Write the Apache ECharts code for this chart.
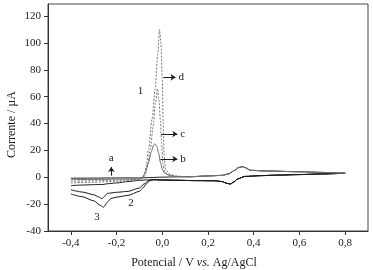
<!DOCTYPE html>
<html>
<head>
<meta charset="utf-8">
<script src="https://cdn.jsdelivr.net/npm/echarts@6/dist/echarts.min.js"></script>
<style>
  html, body { margin: 0; padding: 0; background: #fff; }
  #chart { width: 373px; height: 270px; }
</style>
</head>
<body>
<div id="chart"></div>
<script>
// axis ticks
const xTicks = [-0.4, -0.2, 0, 0.2, 0.4, 0.6, 0.8]
const yTicks = [-40, -20, 0, 20, 40, 60, 80, 100, 120]

// anodic scans (-0.4 -> 0.8 V), common part after the stripping peaks
const anodicTail = [[0.12, 0.4], [0.2, 1.0], [0.26, 1.4], [0.29, 2.5], [0.315, 5], [0.335, 7.3], [0.35, 7.9], [0.365, 7], [0.385, 5.2], [0.45, 4.7], [0.6, 4.1], [0.7, 3.6], [0.8, 3.0]]
const anodicA = [[-0.4, -0.7], [-0.3, -0.6], [-0.2, -0.5], [-0.1, -0.5], [-0.05, -0.2], [0, 0.1], [0.06, 0.3]]
const anodicB = [[-0.4, -1.8], [-0.3, -1.6], [-0.2, -1.4], [-0.12, -1.3], [-0.1, -1.1], [-0.085, 0.3], [-0.074, 3.7], [-0.06, 11], [-0.048, 19], [-0.038, 24], [-0.032, 25], [-0.024, 23], [-0.016, 18], [-0.008, 11], [0, 6], [0.01, 3], [0.03, 1.5], [0.06, 0.6]]
const anodicC = [[-0.4, -3], [-0.3, -2.6], [-0.2, -2.2], [-0.1, -1.6], [-0.085, -0.5], [-0.075, 1.5], [-0.065, 8], [-0.052, 21], [-0.04, 38], [-0.03, 55], [-0.021, 66], [-0.015, 58], [-0.008, 42], [-0.003, 25], [0.003, 10], [0.01, 4], [0.025, 2], [0.045, 1], [0.07, 0.5]]
const anodicD = [[-0.4, -4.2], [-0.3, -3.7], [-0.2, -3], [-0.1, -2], [-0.088, -0.5], [-0.08, 1.5], [-0.07, 8], [-0.06, 21], [-0.045, 43], [-0.031, 66], [-0.02, 92], [-0.012, 110], [-0.006, 100], [0, 74], [0.004, 40], [0.008, 16], [0.014, 6], [0.03, 2.5], [0.06, 1], [0.09, 0.5]]

// cathodic scans (0.8 -> -0.4 V)
const cathodicHead = [[0.8, 3.0], [0.7, 2.5], [0.6, 2.0], [0.5, 1.6], [0.43, 1.2], [0.36, 0.6], [0.33, -1.2], [0.312, -3.6], [0.298, -5], [0.282, -4.5], [0.262, -3.2], [0.23, -2.6], [0.15, -2.5], [0.05, -2.2], [0, -2], [-0.04, -1.8]]
const cathodic1 = [[-0.07, -2.0], [-0.1, -2.3], [-0.15, -3.2], [-0.2, -4.2], [-0.24, -4.8], [-0.26, -5.4], [-0.3, -5.5], [-0.35, -5.8], [-0.4, -6.2]]
const cathodic2 = [[-0.06, -2.5], [-0.08, -5], [-0.1, -8], [-0.15, -10.5], [-0.2, -11.2], [-0.24, -12], [-0.252, -14], [-0.264, -16], [-0.28, -14.5], [-0.3, -13], [-0.35, -11], [-0.4, -9.3]]
const cathodic3 = [[-0.055, -2.5], [-0.07, -5], [-0.085, -8], [-0.1, -10.5], [-0.15, -13.5], [-0.2, -14.8], [-0.225, -15.8], [-0.24, -18.5], [-0.257, -22.3], [-0.27, -21], [-0.3, -17.5], [-0.35, -14.5], [-0.4, -12.4]]

// annotations: arrows [from, to, label] and free labels
const arrows = [
  { from: [0.005, 74.4], to: [0.058, 74.4], text: 'd' },
  { from: [-0.005, 32.2], to: [0.066, 32.2], text: 'c' },
  { from: [-0.008, 13.6], to: [0.066, 13.6], text: 'b' },
  { from: [-0.223, 1.2], to: [-0.223, 7.6], text: 'a' }
]
const curveLabels = [
  { coord: [-0.095, 64], text: '1' },
  { coord: [-0.137, -19.1], text: '2' },
  { coord: [-0.286, -29.8], text: '3' }
]

const FONT = 'Liberation Serif'
const INK = '#1a1a1a'

const comma = v => v.toFixed(1).replace('.', ',')

function line (name, data, color, type) {
  return {
    name,
    type: 'line',
    data,
    symbol: 'none',
    smooth: 0.25,
    smoothMonotone: 'x',
    silent: true,
    lineStyle: { color, width: 1, type: type || 'solid' }
  }
}

const chart = echarts.init(document.getElementById('chart'), null, { renderer: 'canvas' })

const option = {
  backgroundColor: '#fff',
  animation: false,
  textStyle: { fontFamily: FONT },
  grid: {
    left: 48, right: 5, top: 4, bottom: 39,
    containLabel: false,
    outerBoundsMode: 'none',
    show: true, borderColor: '#444', borderWidth: 1
  },
  xAxis: {
    type: 'value',
    min: -0.5,
    max: 0.9,
    name: 'Potencial / V {i|vs.} Ag/AgCl',
    nameLocation: 'middle',
    nameGap: 26,
    nameMoveOverlap: false,
    nameTextStyle: {
      fontFamily: FONT, fontSize: 12, color: INK, padding: [0, 28, 0, 0],
      rich: { i: { fontFamily: FONT, fontSize: 12, fontStyle: 'italic', color: INK } }
    },
    axisLine: { onZero: false, lineStyle: { color: '#333', width: 1 } },
    axisTick: { show: true, inside: false, length: 4, customValues: xTicks, lineStyle: { color: '#333' } },
    axisLabel: { customValues: xTicks, formatter: comma, color: INK, fontSize: 11, fontFamily: FONT, margin: 7 },
    splitLine: { show: false }
  },
  yAxis: {
    type: 'value',
    min: -40,
    max: 129,
    name: 'Corrente / µA',
    nameLocation: 'middle',
    nameGap: 30,
    nameMoveOverlap: false,
    nameTextStyle: { fontFamily: FONT, fontSize: 12, color: INK, padding: [0, 14, 0, 0] },
    axisLine: { onZero: false, lineStyle: { color: '#333', width: 1 } },
    axisTick: { show: true, inside: false, length: 4, customValues: yTicks, lineStyle: { color: '#333' } },
    axisLabel: { customValues: yTicks, color: INK, fontSize: 11, fontFamily: FONT, margin: 7 },
    splitLine: { show: false }
  },
  series: [
    line('cat1', cathodicHead.concat(cathodic1), INK),
    line('cat2', cathodicHead.concat(cathodic2), INK),
    line('cat3', cathodicHead.concat(cathodic3), INK),
    line('a', anodicA.concat(anodicTail), INK),
    line('b', anodicB.concat(anodicTail), '#6a6a6a'),
    line('c', anodicC.concat(anodicTail), '#777', [2, 1.5]),
    line('d', anodicD.concat(anodicTail), '#777', [2, 1.5]),
    {
      name: 'notes',
      type: 'line',
      data: [],
      silent: true,
      markLine: {
        silent: true,
        symbol: ['none', 'arrow'],
        symbolSize: 5,
        animation: false,
        lineStyle: { color: INK, width: 1, type: 'solid' },
        label: { show: true, position: 'end', distance: 3, color: INK, fontFamily: FONT, fontSize: 11 },
        data: arrows.map(a => [
          { coord: a.from },
          { coord: a.to, label: { formatter: a.text } }
        ])
      },
      markPoint: {
        silent: true,
        symbol: 'circle',
        symbolSize: 1,
        itemStyle: { color: 'transparent' },
        label: { show: true, position: 'inside', color: INK, fontFamily: FONT, fontSize: 11 },
        data: curveLabels.map(c => ({ coord: c.coord, value: c.text, label: { formatter: c.text } }))
      }
    }
  ]
}

chart.setOption(option)
</script>
</body>
</html>
